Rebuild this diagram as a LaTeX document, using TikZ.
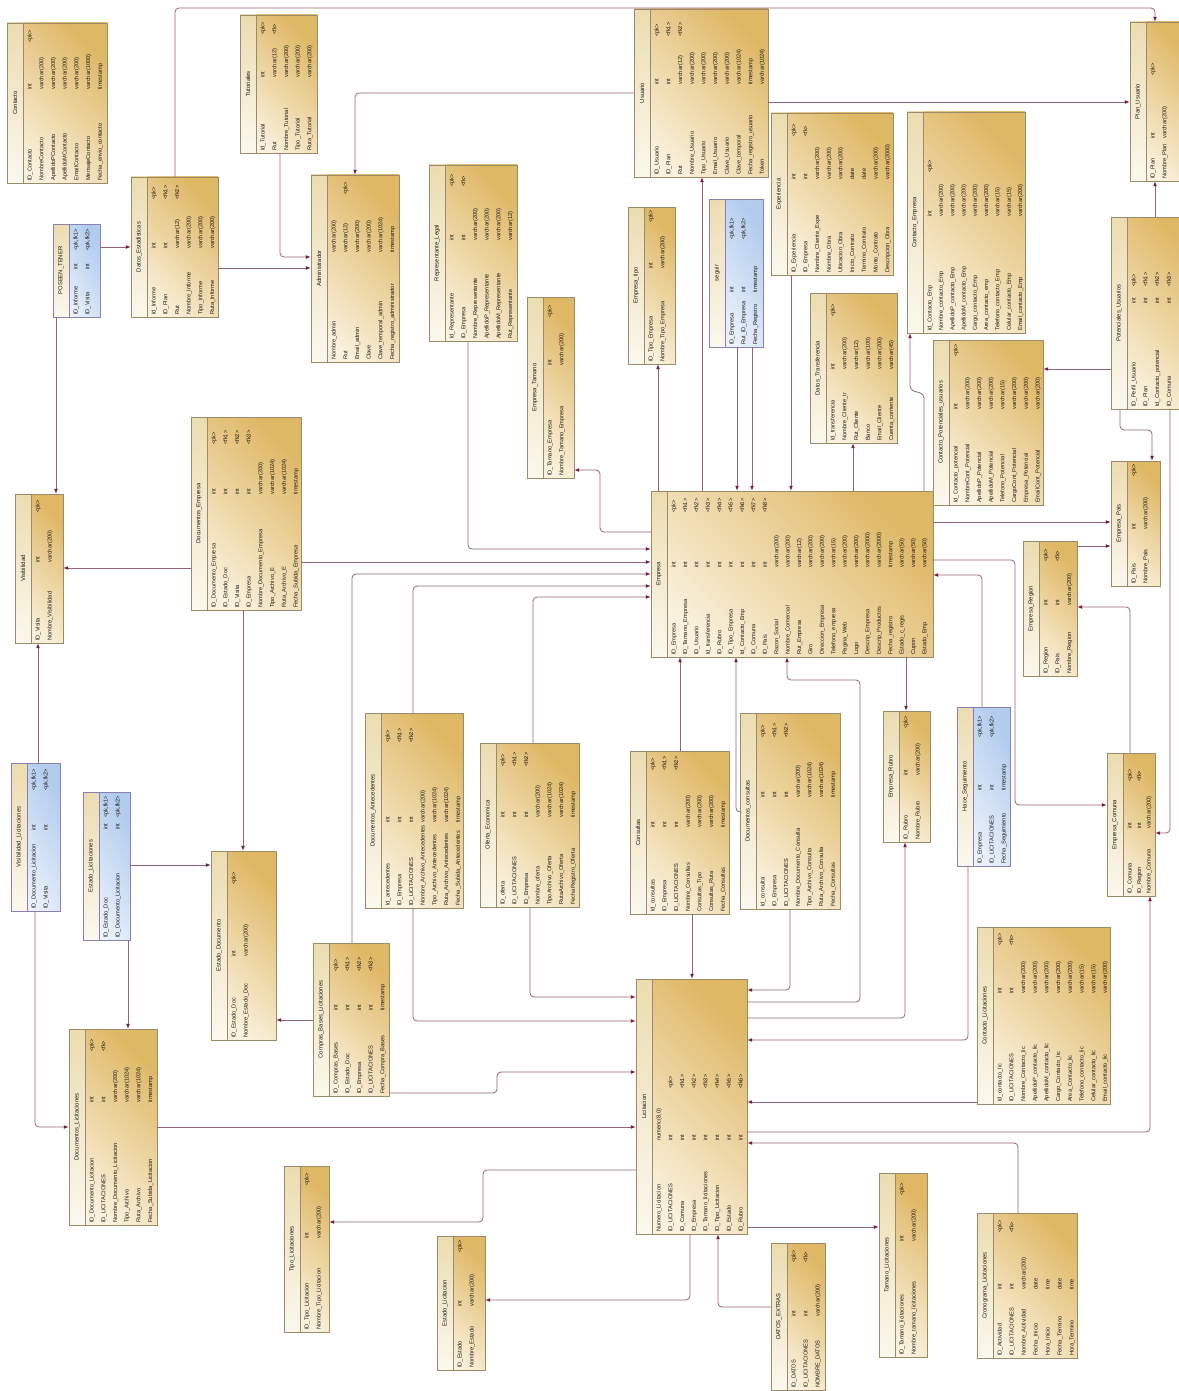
\documentclass[tikz,border=0pt]{standalone}
\usepackage{fontspec}
\setmainfont{Liberation Sans}
\usetikzlibrary{arrows.meta,fit}
\definecolor{tanL}{HTML}{FAF2DE}
\definecolor{tanD}{HTML}{DFB866}
\definecolor{hdrT}{HTML}{ECDCB0}
\definecolor{hdrB}{HTML}{FBF8EE}
\definecolor{tborder}{HTML}{9A8C6A}
\definecolor{blueL}{HTML}{F0F5FC}
\definecolor{blueD}{HTML}{B2CCEE}
\definecolor{bborder}{HTML}{8A80B2}
\definecolor{lnc}{HTML}{94627F}
\definecolor{arc}{HTML}{7A1540}
\definecolor{txt}{HTML}{1E1B16}
\newcommand\rp{11.7}
\newcommand\tshade{tanshade}
\newcommand\tbord{tborder}
\newcommand\ertblinner[9]{%
  \shade[\tshade] (#2,#3) rectangle (#4,#5);
  \shade[hdrshade] (#2,#3) rectangle ({#2+16},#5);
  \draw[draw=\tbord, line width=0.6pt] (#2,#3) rectangle (#4,#5);
  \draw[draw=\tbord, line width=0.6pt] ({#2+16},#3) -- ({#2+16},#5);
  \node[fit={(#2,#3) (#4,#5)}, inner sep=0pt] (#1) {};
  \node[ttl] at ({#2+8},{(#3+#5)/2}) {#6};
  \foreach \nm/\ty/\ky [count=\ii] in {#9} {
    \pgfmathsetmacro\cx{#2+22+(\ii-1)*\rp}
    \node[rtxt] at (\cx,{#5-2}) {\nm};
    \node[rtxt] at (\cx,{#5-#7}) {\ty};
    \node[rtxt] at (\cx,{#5-#8}) {\ky};
  }%
}
\newcommand\ertbl{\renewcommand\tshade{tanshade}\renewcommand\tbord{tborder}\ertblinner}
\newcommand\ertblB{\renewcommand\tshade{blueshade}\renewcommand\tbord{bborder}\ertblinner}
\begin{document}
\begin{tikzpicture}[x=1pt,y=-1pt,
  tanshade/.style={top color=tanD, bottom color=tanL, shading angle=-45},
  blueshade/.style={top color=blueD, bottom color=blueL, shading angle=-60},
  hdrshade/.style={top color=hdrT, bottom color=hdrB},
  ttl/.style={rotate=90, anchor=center, inner sep=0pt, text=txt, font=\fontsize{5.9}{6}\selectfont},
  rtxt/.style={rotate=90, anchor=mid west, inner sep=0pt, text=txt, font=\fontsize{5.7}{6}\selectfont},
  fk/.style={draw=lnc, line width=0.8pt, rounded corners=4pt, -{Latex[length=5pt,width=3.8pt,color=arc]}}]
\fill[white] (0,0) rectangle (1178,1391);
\useasboundingbox (0,0) rectangle (1178,1391);

% ---------------- tables ----------------
\ertbl{contacto}{7}{23}{107}{183}{Contacto}{93}{140}{ID\_Contacto/int/<pk>, NombreContacto/varchar(200)/, ApellidoPContacto/varchar(200)/, ApellidoMContacto/varchar(200)/, EmailContacto/varchar(200)/, MensajeContacto/varchar(1000)/, Fecha\_envio\_contacto/timestamp/}
\ertbl{tutoriales}{240}{15}{317}{153}{Tutoriales}{75}{118}{Id\_Tutorial/int/<pk>, Rut/varchar(12)/<fk>, Nombre\_Tutorial/varchar(200)/, Tipo\_Tutorial/varchar(200)/, Ruta\_Tutorial/varchar(200)/}
\ertbl{datosest}{131}{177}{218}{317}{Datos\_Estadisticas}{68}{117}{Id\_Informe/int/<pk>, ID\_Plan/int/<fk1>, Rut/varchar(12)/<fk2>, Nombre\_Informe/varchar(200)/, Tipo\_Informe/varchar(200)/, Ruta\_Informe/varchar(200)/}
\ertblB{poseen}{53}{224}{100}{317}{POSEEN\_TENER}{47}{66}{ID\_Informe/int/{<pk,fk1>}, ID\_Visita/int/{<pk,fk2>}}
\ertbl{admin}{311}{175}{399}{362}{Administrador}{109}{167}{Nombre\_admin/varchar(200)/, Rut/varchar(12)/<pk>, Email\_admin/varchar(200)/, Clave/varchar(200)/, Clave\_temporal\_admin/varchar(1024)/, Fecha\_registro\_administrador/timestamp/}
\ertbl{replegal}{429}{165}{517}{341}{Representante\_Legal}{100}{154}{Id\_Representante/int/<pk>, ID\_Empresa/int/<fk>, Nombre\_Representante/varchar(200)/, ApellidoP\_Representante/varchar(200)/, ApellidoM\_Representante/varchar(200)/, Rut\_Representante/varchar(12)/}
\ertbl{emptam}{527}{297}{574}{478}{Empresa\_Tamano}{112}{160}{ID\_Tamano\_Empresa/int/<pk>, Nombre\_Tamano\_Empresa/varchar(200)/}
\ertbl{usuario}{634}{9}{768}{177}{Usuario}{92}{140}{ID\_Usuario/int/<pk>, ID\_Plan/int/<fk1>, Rut/varchar(12)/<fk2>, Nombre\_Usuario/varchar(200)/, Tipo\_Usuario/varchar(200)/, Email\_Usuario/varchar(200)/, Clave\_Usuario/varchar(200)/, Clave\_temporal/varchar(1024)/, Fecha\_registro\_usuario/timestamp/, Token/varchar(1024)/}
\ertbl{emptipo}{628}{207}{675}{364}{Empresa\_tipo}{95}{141}{ID\_Tipo\_Empresa/int/<pk>, Nombre\_Tipo\_Empresa/varchar(200)/}
\ertblB{seguir}{709}{199}{763}{347}{seguir}{54}{107}{ID\_Empresa/int/{<pk,fk1>}, Rut\_ID\_Empresa/int/{<pk,fk2>}, Fecha\_Registro/timestamp/}
\ertbl{experiencia}{771}{113}{893}{275}{Experiencia}{95}{138}{ID\_Experiencia/int/<pk>, ID\_Empresa/int/<fk>, Nombre\_Cliente\_Expe/varchar(200)/, Nombre\_Obra/varchar(200)/, Ubicacion\_Obra/varchar(200)/, Inicio\_Contrato/date/, Termino\_Contrato/date/, Monto\_Contrato/varchar(200)/, Descripcion\_Obra/varchar(2000)/}
\ertbl{datostrans}{810}{293}{897}{443}{Datos\_Transferencia}{73}{126}{Id\_transferencia/int/<pk>, Nombre\_Cliente\_tr/varchar(200)/, Rut\_Cliente/varchar(12)/, Banco/varchar(100)/, Email\_Cliente/varchar(200)/, Cuenta\_corriente/varchar(45)/}
\renewcommand\rp{11.3}
\ertbl{contemp}{907}{112}{1025}{333}{Contacto\_Empresa}{116}{160}{Id\_Contacto\_Emp/int/<pk>, Nombre\_contacto\_Emp/varchar(200)/, ApellidoP\_contacto\_Emp/varchar(200)/, ApellidoM\_contacto\_Emp/varchar(200)/, Cargo\_contacto\_Emp/varchar(200)/, Area\_contacto\_emp/varchar(200)/, Telefono\_contacto\_Emp/varchar(15)/, Celular\_contacto\_Emp/varchar(15)/, Email\_contacto\_Emp/varchar(200)/}
\renewcommand\rp{11.7}
\ertbl{contpot}{933}{340}{1043}{505}{Contacto\_Potenciales\_usuarios}{95}{148}{Id\_Contacto\_potencial/int/<pk>, NombreCont\_Potencial/varchar(200)/, ApellidoP\_Potencial/varchar(200)/, ApellidoM\_Potencial/varchar(200)/, Telefono\_Potencial/varchar(15)/, CargoCont\_Potencial/varchar(200)/, Empresa\_Potencial/varchar(200)/, EmailCont\_Potencial/varchar(200)/}
\ertbl{planusu}{1130}{22}{1190}{181}{Plan\_Usuario}{42}{105}{ID\_Plan/int/<pk>, Nombre\_Plan/varchar(200)/}
\ertbl{potusu}{1111}{217}{1200}{409}{Potenciales\_Usuarios}{105}{122}{ID\_Perfil\_Usuario/int/<pk>, ID\_Plan/int/<fk1>, Id\_Contacto\_potencial/int/<fk2>, ID\_Comuna/int/<fk3>}
\ertbl{emppais}{1111}{461}{1160}{586}{Empresa\_Pais}{56}{109}{ID\_Pais/int/<pk>, Nombre\_Pais/varchar(200)/}
\ertbl{empregion}{1023}{541}{1077}{676}{Empresa\_Region}{70}{114}{ID\_Region/int/<pk>, ID\_Pais/int/<fk>, Nombre\_Region/varchar(200)/}
\renewcommand\rp{11.4}
\ertbl{empresa}{651}{491}{933}{657}{Empresa}{89}{144}{ID\_Empresa/int/<pk>, ID\_Tamano\_Empresa/int/<fk1>, ID\_Usuario/int/<fk2>, Id\_transferencia/int/<fk3>, ID\_Rubro/int/<fk4>, ID\_Tipo\_Empresa/int/<fk5>, Id\_Contacto\_Emp/int/<fk6>, ID\_Comuna/int/<fk7>, ID\_Pais/int/<fk8>, Razon\_Social/varchar(200)/, Nombre\_Comercial/varchar(200)/, Rut\_Empresa/varchar(12)/, Giro/varchar(200)/, Direccion\_Empresa/varchar(200)/, Telefono\_empresa/varchar(15)/, Pagina\_Web/varchar(200)/, Logo/varchar(200)/, Descrip\_Empresa/varchar(2000)/, Descrip\_Productos/varchar(2000)/, Fecha\_registro/timestamp/, Estado\_c\_regis/varchar(50)/, Cupon/varchar(50)/, Estado\_Emp/varchar(50)/}
\renewcommand\rp{12}
\ertbl{visibilidad}{15}{494}{63}{643}{Visibilidad}{80}{130}{ID\_Visita/int/<pk>, Nombre\_Visibilidad/varchar(200)/}
\renewcommand\rp{11.7}
\ertbl{docemp}{191}{417}{301}{610}{Documentos\_Empresa}{115}{165}{ID\_Documento\_Empresa/int/<pk>, ID\_Estado\_Doc/int/<fk1>, ID\_Visita/int/<fk2>, ID\_Empresa/int/<fk3>, Nombre\_Documento\_Empresa/varchar(200)/, Tipo\_Archivo\_E/varchar(1024)/, Ruta\_Archivo\_E/varchar(1024)/, Fecha\_Subida\_Empresa/timestamp/}
\renewcommand\rp{12}
\ertblB{vislic}{11}{763}{60}{911}{Visibilidad\_Licitaciones}{80}{120}{ID\_Documento\_Licitacion/int/{<pk,fk1>}, ID\_Visita/int/{<pk,fk2>}}
\ertblB{estlic}{83}{792}{130}{940}{Estado\_Licitaciones}{110}{122}{ID\_Estado\_Doc/int/{<pk,fk1>}, ID\_Documento\_Licitacion/int/{<pk,fk2>}}
\ertbl{estdoc}{211}{851}{276}{1040}{Estado\_Documento}{83}{155}{ID\_Estado\_Doc/int/<pk>, Nombre\_Estado\_Doc/varchar(200)/}
\renewcommand\rp{11.7}
\ertbl{docant}{365}{713}{463}{908}{Documentos\_Antecedentes}{85}{165}{Id\_antecedentes/int/<pk>, ID\_Empresa/int/<fk1>, ID\_LICITACIONES/int/<fk2>, Nombre\_Archivo\_Antecedentes/varchar(200)/, Tipo\_Archivo\_Antecedentes/varchar(1024)/, Ruta\_Archivo\_Antecedentes/varchar(1024)/, Fecha\_Subida\_Antecedentes/timestamp/}
\ertbl{oferta}{480}{743}{579}{907}{Oferta\_Economica}{89}{140}{ID\_oferta/int/<pk>, ID\_LICITACIONES/int/<fk1>, ID\_Empresa/int/<fk2>, Nombre\_oferta/varchar(200)/, TipoArchivo\_Oferta/varchar(1024)/, RutaArchivo\_Oferta/varchar(1024)/, FechaRegistro\_Oferta/timestamp/}
\ertbl{consultas}{630}{751}{729}{914}{Consultas}{86}{143}{Id\_consultas/int/<pk>, ID\_Empresa/int/<fk1>, ID\_LICITACIONES/int/<fk2>, Nombre\_Consultas/varchar(200)/, Consultas\_Tipo/varchar(200)/, Consultas\_Ruta/varchar(200)/, Fecha\_Consultas/timestamp/}
\ertbl{doccons}{740}{713}{840}{909}{Documentos\_consultas}{111}{171}{Id\_consulta/int/<pk>, ID\_Empresa/int/<fk1>, ID\_LICITACIONES/int/<fk2>, Nombre\_Documento\_Consulta/varchar(200)/, Tipo\_Archivo\_Consulta/varchar(1024)/, Ruta\_Archivo\_Consulta/varchar(1024)/, Fecha\_Consultas/timestamp/}
\renewcommand\rp{12}
\ertbl{emprubro}{883}{711}{930}{842}{Empresa\_Rubro}{66}{113}{ID\_Rubro/int/<pk>, Nombre\_Rubro/varchar(200)/}
\ertblB{haceseg}{957}{707}{1010}{866}{Hace\_Seguimiento}{75}{128}{ID\_Empresa/int/{<pk,fk1>}, ID\_LICITACIONES/int/{<pk,fk2>}, Fecha\_Seguimiento/timestamp/}
\renewcommand\rp{9.5}
\ertbl{empcomuna}{1107}{753}{1155}{896}{Empresa\_Comuna}{67}{114}{ID\_Comuna/int/<pk>, ID\_Region/int/<fk>, Nombre\_Comuna/varchar(200)/}
\renewcommand\rp{11.7}
\ertbl{comprasbases}{313}{943}{389}{1096}{Compras\_Bases\_Licitaciones}{85}{124}{ID\_Compras\_Bases/int/<pk>, ID\_Estado\_Doc/int/<fk1>, ID\_Empresa/int/<fk2>, ID\_LICITACIONES/int/<fk3>, Fecha\_Compra\_Bases/timestamp/}
\ertbl{doclic}{69}{1029}{157}{1225}{Documentos\_Licitaciones}{122}{173}{ID\_Documento\_Licitacion/int/<pk>, ID\_LICITACIONES/int/<fk>, Nombre\_Documento\_Licitacion/varchar(200)/, Tipo\_Archivo/varchar(1024)/, Ruta\_Archivo/varchar(1024)/, Fecha\_Subida\_Licitacion/timestamp/}
\ertbl{licitacion}{636}{979}{747}{1234}{Licitacion}{93}{145}{Numero\_Licitacion/{numeric(8,0)}/, ID\_LICITACIONES/int/<pk>, ID\_Comuna/int/<fk1>, ID\_Empresa/int/<fk2>, ID\_Tamano\_licitaciones/int/<fk3>, ID\_Tipo\_Licitacion/int/<fk4>, ID\_Estado/int/<fk5>, ID\_Rubro/int/<fk6>}
\renewcommand\rp{12}
\ertbl{tipolic}{284}{1166}{329}{1332}{Tipo\_Licitaciones}{93}{146}{ID\_Tipo\_Licitacion/int/<pk>, Nombre\_Tipo\_Licitacion/varchar(200)/}
\ertbl{estadolic}{437}{1236}{485}{1370}{Estado\_Licitacion}{63}{117}{ID\_Estado/int/<pk>, Nombre\_Estado/varchar(200)/}
\ertbl{datosextras}{771}{1243}{825}{1390}{DATOS\_EXTRAS}{73}{127}{ID\_DATOS/int/<pk>, ID\_LICITACIONES/int/<fk>, NOMBRE\_DATOS/varchar(200)/}
\ertbl{tamlic}{879}{1173}{927}{1357}{Tamano\_Licitaciones}{115}{161}{ID\_Tamano\_licitaciones/int/<pk>, Nombre\_tamano\_licitaciones/varchar(200)/}
\renewcommand\rp{11.7}
\ertbl{contlic}{977}{927}{1110}{1104}{Contacto\_Licitaciones}{110}{158}{Id\_contacto\_lic/int/<pk>, ID\_LICITACIONES/int/<fk>, Nombre\_Contacto\_lic/varchar(200)/, ApellidoP\_contacto\_lic/varchar(200)/, ApellidoM\_contacto\_lic/varchar(200)/, Cargo\_Contacto\_lic/varchar(200)/, Area\_Contacto\_lic/varchar(200)/, Telefono\_contacto\_lic/varchar(15)/, Celular\_contacto\_lic/varchar(15)/, Email\_contacto\_lic/varchar(200)/}
\renewcommand\rp{12}
\ertbl{cronograma}{977}{1213}{1077}{1358}{Cronograma\_Licitaciones}{68}{125}{ID\_Actividad/int/<pk>, ID\_LICITACIONES/int/<fk>, Nombre\_Actividad/varchar(200)/, Fecha\_Inicio/date/, Hora\_Inicio/time/, Fecha\_Termino/date/, Hora\_Termino/time/}

% ---------------- connectors ----------------
\draw[fk] (datosest.north -| 175,0) -- (175,8) -- (1155,8) -- (planusu.north -| 1155,0);
\draw[fk] (usuario.west |- 0,93) -- (355,93) -- (admin.north -| 355,0);
\draw[fk] (usuario.east |- 0,102) -- (planusu.west |- 0,102);
\draw[fk] (tutoriales.south -| 280,0) -- (280,257) -- (admin.west |- 0,257);
\draw[fk] (datosest.east |- 0,268) -- (admin.west |- 0,268);
\draw[fk] (poseen.east |- 0,247) -- (datosest.west |- 0,247);
\draw[fk] (poseen.south -| 56,0) -- (visibilidad.north -| 56,0);
\draw[fk] (potusu.north -| 1155,0) -- (planusu.south -| 1155,0);
\draw[fk] (potusu.west |- 0,369) -- (contpot.east |- 0,369);
\draw[fk] (potusu.south -| 1120,0) -- (1120,430) -- (1152,430) -- (emppais.north -| 1152,0);
\draw[fk] (potusu.south -| 1170,0) -- (1170,833) -- (empcomuna.east |- 0,833);
\draw[fk] (empresa.north -| 924,0) -- (924,394) -- (910,390) -- (contemp.south -| 910,0);
\draw[fk] (empresa.north -| 658,0) -- (emptipo.south -| 658,0);
\draw[fk] (empresa.north -| 702,0) -- (usuario.south -| 702,0);
\draw[fk] (seguir.south -| 737,0) -- (empresa.north -| 737,0);
\draw[fk] (seguir.south -| 752,0) -- (empresa.north -| 752,0);
\draw[fk] (experiencia.south -| 791,0) -- (empresa.north -| 791,0);
\draw[fk] (empresa.north -| 853,0) -- (datostrans.south -| 853,0);
\draw[fk] (empresa.west |- 0,532) -- (600,532) -- (600,470) -- (emptam.east |- 0,470);
\draw[fk] (replegal.south -| 468,0) -- (468,549) -- (empresa.west |- 0,549);
\draw[fk] (docemp.east |- 0,562) -- (empresa.west |- 0,562);
\draw[fk] (docemp.west |- 0,568) -- (visibilidad.east |- 0,568);
\draw[fk] (comprasbases.north -| 352,0) -- (352,574) -- (empresa.west |- 0,574);
\draw[fk] (docant.north -| 413,0) -- (413,586) -- (empresa.west |- 0,586);
\draw[fk] (oferta.north -| 533,0) -- (533,597) -- (empresa.west |- 0,597);
\draw[fk] (consultas.north -| 680,0) -- (empresa.south -| 680,0);
\draw[fk] (doccons.west |- 0,812) -- (736,812) -- (empresa.south -| 736,0);
\draw[fk] (licitacion.east |- 0,1002) -- (860,1002) -- (860,680) -- (787,680) -- (empresa.south -| 787,0);
\draw[fk] (doccons.south -| 790,0) -- (790,990) -- (licitacion.east |- 0,990);
\draw[fk] (consultas.south -| 692,0) -- (licitacion.north -| 692,0);
\draw[fk] (empresa.south -| 906,0) -- (emprubro.north -| 906,0);
\draw[fk] (empresa.east |- 0,522) -- (emppais.west |- 0,522);
\draw[fk] (empresa.east |- 0,560) -- (1015,560) -- (1015,805) -- (empcomuna.west |- 0,805);
\draw[fk] (haceseg.north -| 982,0) -- (982,575) -- (empresa.east |- 0,575);
\draw[fk] (empregion.east |- 0,546) -- (emppais.west |- 0,546);
\draw[fk] (empcomuna.north -| 1130,0) -- (1130,607) -- (empregion.east |- 0,607);
\draw[fk] (licitacion.east |- 0,1018) -- (905,1018) -- (emprubro.south -| 905,0);
\draw[fk] (haceseg.south -| 968,0) -- (968,1040) -- (licitacion.east |- 0,1040);
\draw[fk] (contlic.west |- 0,1102) -- (licitacion.east |- 0,1102);
\draw[fk] (licitacion.east |- 0,1132) -- (1150,1132) -- (empcomuna.south -| 1150,0);
\draw[fk] (cronograma.north -| 1018,0) -- (1018,1143) -- (licitacion.east |- 0,1143);
\draw[fk] (licitacion.east |- 0,1227) -- (tamlic.west |- 0,1227);
\draw[fk] (licitacion.south -| 690,0) -- (690,1300) -- (estadolic.east |- 0,1300);
\draw[fk] (datosextras.west |- 0,1307) -- (718,1307) -- (licitacion.south -| 718,0);
\draw[fk] (docant.south -| 413,0) -- (413,1021) -- (licitacion.west |- 0,1021);
\draw[fk] (oferta.south -| 530,0) -- (530,997) -- (licitacion.west |- 0,997);
\draw[fk] (comprasbases.east |- 0,1093) -- (497,1093) -- (497,1072) -- (licitacion.west |- 0,1072);
\draw[fk] (doclic.east |- 0,1127) -- (licitacion.west |- 0,1127);
\draw[fk] (licitacion.west |- 0,1170) -- (483,1170) -- (483,1222) -- (tipolic.east |- 0,1222);
\draw[fk] (comprasbases.west |- 0,1020) -- (estdoc.east |- 0,1020);
\draw[fk] (docemp.south -| 243,0) -- (estdoc.north -| 243,0);
\draw[fk] (estlic.east |- 0,865) -- (estdoc.west |- 0,865);
\draw[fk] (estlic.south -| 128,0) -- (doclic.north -| 128,0);
\draw[fk] (vislic.north -| 38,0) -- (visibilidad.south -| 38,0);
\draw[fk] (vislic.south -| 35,0) -- (35,1127) -- (doclic.west |- 0,1127);
\end{tikzpicture}
\end{document}
